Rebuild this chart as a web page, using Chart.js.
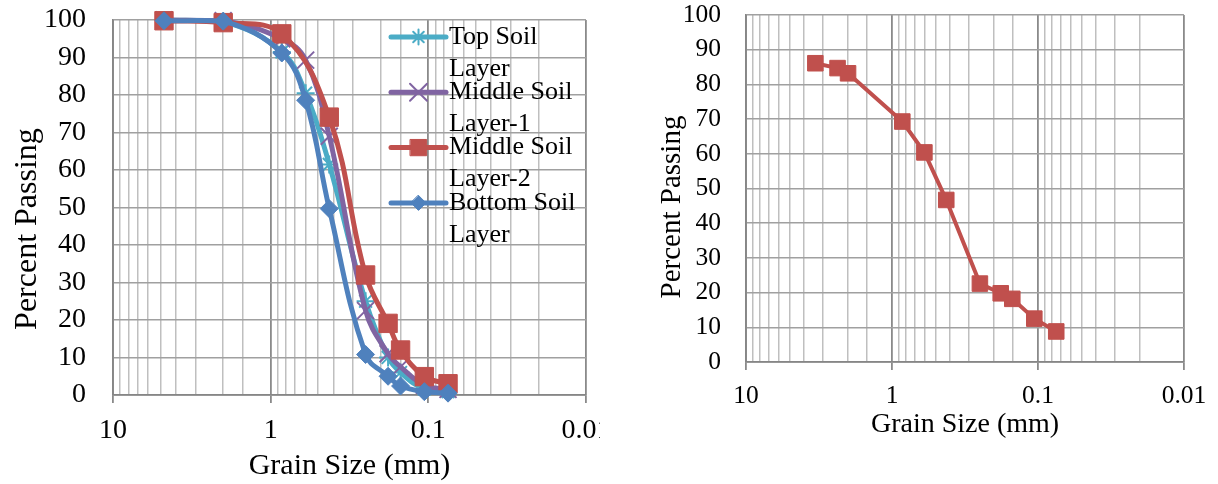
<!DOCTYPE html>
<html>
<head>
<meta charset="utf-8">
<script src="https://cdn.jsdelivr.net/npm/chart.js@4.4.0/dist/chart.umd.min.js"></script>
<style>
  html, body { margin: 0; padding: 0; background: #ffffff; }
  body { width: 1218px; height: 484px; position: relative; overflow: hidden; }
  #left  { position: absolute; left: 0;     top: 0; }
  #right { position: absolute; left: 610px; top: 0; }
</style>
</head>
<body>
<canvas id="left" width="600" height="484"></canvas>
<canvas id="right" width="608" height="484"></canvas>
<script>
const FONT = "'Liberation Serif', 'Times New Roman', serif";
Chart.defaults.font.family = FONT;
Chart.defaults.color = '#000000';

// Sieve openings (mm) and percent passing for each soil layer
const topSoilSize  = [4.75, 2.0, 0.85, 0.6, 0.425, 0.25, 0.18, 0.15, 0.106, 0.075];
const topSoilPass  = [100, 99.6, 91.5, 80.5, 61.5, 25, 10, 6, 1.6, 0.9];
const middle1Size  = [4.75, 2.0, 0.85, 0.6, 0.425, 0.25, 0.18, 0.15, 0.106, 0.075];
const middle1Pass  = [100, 99.8, 95, 89.3, 69, 22.5, 11, 7.5, 2.6, 1.5];
const middle2Size  = [4.75, 2.0, 0.85, 0.425, 0.25, 0.18, 0.15, 0.106, 0.075];
const middle2Pass  = [99.8, 99.3, 96.3, 74.1, 32, 19.1, 12, 4.9, 3.0];
const bottomSize   = [4.75, 2.0, 0.85, 0.6, 0.425, 0.25, 0.18, 0.15, 0.106, 0.075];
const bottomPass   = [99.8, 99.7, 91.2, 78.6, 49.7, 10.8, 5, 2.4, 0.9, 0.5];

// Second gradation sample
const sampleSize = [3.35, 2.36, 2.0, 0.85, 0.6, 0.425, 0.25, 0.18, 0.15, 0.106, 0.075];
const samplePass = [86.1, 84.7, 83.2, 69.3, 60.4, 46.7, 22.6, 19.8, 18.2, 12.5, 8.8];

const seriesNames = ['Top Soil Layer', 'Middle Soil Layer-1', 'Middle Soil Layer-2', 'Bottom Soil Layer'];
const legendLines = [['Top Soil', 'Layer'], ['Middle Soil', 'Layer-1'], ['Middle Soil', 'Layer-2'], ['Bottom Soil', 'Layer']];

// Labelled decades on the grain-size axis
const sizeTicks = [10, 1, 0.1, 0.01];
const sizeTickLabels = ['10', '1', '0.1', '0.01'];

const CYAN = '#4BACC6', PURPLE = '#8064A2', RED = '#C0504D', BLUE = '#4F81BD';

function points(xs, ys) { return xs.map((x, i) => ({ x: x, y: ys[i] })); }

function isDecade(v) {
  const l = Math.log10(v);
  return Math.abs(l - Math.round(l)) < 1e-9;
}

function sizeLabel(v) {
  const i = sizeTicks.findIndex(t => Math.abs(t - v) / t < 1e-6);
  return i >= 0 ? sizeTickLabels[i] : '';
}

function makeScales(o) {
  return {
    x: {
      type: 'logarithmic', min: 0.01, max: 10, reverse: true,
      afterFit: s => { s.height = o.xHeight; s.paddingLeft = 0; s.paddingRight = 0; },
      ticks: {
        autoSkip: false, maxRotation: 0, padding: o.xTickPad,
        font: { size: o.tickSize }, color: '#000',
        callback: v => sizeLabel(v)
      },
      grid: {
        color: c => (c.tick && isDecade(c.tick.value)) ? '#8a8a8a' : '#bfbfbf',
        lineWidth: c => (c.tick && isDecade(c.tick.value)) ? 1.8 : 1.5,
        tickLength: 8,
        tickColor: c => (c.tick && isDecade(c.tick.value)) ? '#8a8a8a' : 'rgba(0,0,0,0)'
      },
      border: { color: '#868686', width: 1.8 },
      title: { display: true, text: 'Grain Size (mm)', font: { size: o.titleSize }, color: '#000',
               padding: { top: 0, bottom: o.xTitlePad } }
    },
    y: {
      min: 0, max: 100,
      afterFit: s => { s.width = o.yWidth; s.paddingTop = 0; s.paddingBottom = 0; },
      ticks: { stepSize: 10, padding: o.yTickPad, font: { size: o.tickSize }, color: '#000' },
      grid: { color: '#a0a0a0', lineWidth: 1.6, drawTicks: false },
      border: { color: '#868686', width: 1.8 },
      title: { display: false }
    }
  };
}

// Vertical axis title, placed by its centre point
function yTitlePlugin(text, cx, cy, size) {
  return {
    id: 'yTitle',
    afterDraw(chart) {
      const ctx = chart.ctx;
      ctx.save();
      ctx.translate(cx, cy);
      ctx.rotate(-Math.PI / 2);
      ctx.font = size + 'px ' + FONT;
      ctx.fillStyle = '#000';
      ctx.textAlign = 'center';
      ctx.textBaseline = 'middle';
      ctx.fillText(text, 0, 0);
      ctx.restore();
    }
  };
}

function drawMarker(ctx, style, x, y, r, fill, stroke, lw) {
  ctx.save();
  ctx.fillStyle = fill; ctx.strokeStyle = stroke; ctx.lineWidth = lw;
  ctx.beginPath();
  const d = r * Math.SQRT1_2;
  if (style === 'rect') {
    ctx.rect(x - d, y - d, 2 * d, 2 * d); ctx.fill(); ctx.stroke();
  } else if (style === 'rectRot') {
    ctx.moveTo(x, y - r); ctx.lineTo(x + r, y); ctx.lineTo(x, y + r); ctx.lineTo(x - r, y);
    ctx.closePath(); ctx.fill(); ctx.stroke();
  } else if (style === 'crossRot') {
    ctx.moveTo(x - d, y - d); ctx.lineTo(x + d, y + d);
    ctx.moveTo(x + d, y - d); ctx.lineTo(x - d, y + d); ctx.stroke();
  } else if (style === 'star') {
    ctx.moveTo(x, y - r); ctx.lineTo(x, y + r);
    ctx.moveTo(x - r, y); ctx.lineTo(x + r, y);
    ctx.moveTo(x - d, y - d); ctx.lineTo(x + d, y + d);
    ctx.moveTo(x + d, y - d); ctx.lineTo(x - d, y + d); ctx.stroke();
  }
  ctx.restore();
}

// Legend drawn inside the plot, with each series name wrapped over two lines
const legendBox = { x0: 391, x1: 446, textX: 449, top: 37, step: 55.3, lineGap: 32, fontSize: 26,
                    radius: [7.5, 12, 11.5, 7.5] };
const layerLegend = {
  id: 'layerLegend',
  afterDatasetsDraw(chart) {
    const ctx = chart.ctx;
    ctx.save();
    legendLines.forEach((lines, i) => {
      const ds = chart.data.datasets[i];
      const y = legendBox.top + i * legendBox.step;
      ctx.strokeStyle = ds.borderColor; ctx.lineWidth = ds.borderWidth; ctx.lineCap = 'round';
      ctx.beginPath(); ctx.moveTo(legendBox.x0, y); ctx.lineTo(legendBox.x1, y); ctx.stroke();
      drawMarker(ctx, ds.pointStyle, (legendBox.x0 + legendBox.x1) / 2, y, legendBox.radius[i],
                 ds.pointBackgroundColor, ds.pointBorderColor, ds.pointBorderWidth);
      ctx.fillStyle = '#000';
      ctx.font = legendBox.fontSize + 'px ' + FONT;
      ctx.textAlign = 'left'; ctx.textBaseline = 'middle';
      lines.forEach((t, k) => ctx.fillText(t, legendBox.textX, y + k * legendBox.lineGap));
    });
    ctx.restore();
  }
};

function lineSet(label, xs, ys, color, style, radius, pbw, order, tension, width) {
  return {
    label: label, data: points(xs, ys), order: order,
    borderColor: color, borderWidth: width, tension: tension,
    borderCapStyle: 'round', borderJoinStyle: 'round',
    pointStyle: style, pointRadius: radius, pointHoverRadius: radius,
    pointBackgroundColor: color, pointBorderColor: color, pointBorderWidth: pbw,
    clip: false
  };
}

new Chart(document.getElementById('left'), {
  type: 'line',
  data: {
    datasets: [
      lineSet(seriesNames[0], topSoilSize, topSoilPass, CYAN,   'star',     9,  2, 3, 0.4, 5),
      lineSet(seriesNames[1], middle1Size, middle1Pass, PURPLE, 'crossRot', 12, 2, 2, 0.4, 5),
      lineSet(seriesNames[2], middle2Size, middle2Pass, RED,    'rect',     13, 1, 1, 0.4, 5),
      lineSet(seriesNames[3], bottomSize,  bottomPass,  BLUE,   'rectRot',  9,  1, 0, 0.4, 5)
    ]
  },
  options: {
    responsive: false, animation: false, devicePixelRatio: 1,
    layout: { padding: { left: 0, top: 20, right: 10, bottom: 0 } },
    plugins: { legend: { display: false }, tooltip: { enabled: false } },
    scales: makeScales({ xHeight: 89, yWidth: 113, tickSize: 28, titleSize: 30,
                         xTickPad: 11, xTitlePad: 0, yTickPad: 27 })
  },
  plugins: [layerLegend, yTitlePlugin('Percent Passing', 28, 229, 32)]
});

new Chart(document.getElementById('right'), {
  type: 'line',
  data: {
    datasets: [
      lineSet('Sample', sampleSize, samplePass, RED, 'rect', 11, 1, 0, 0, 4)
    ]
  },
  options: {
    responsive: false, animation: false, devicePixelRatio: 1,
    layout: { padding: { left: 0, top: 15, right: 34, bottom: 0 } },
    plugins: { legend: { display: false }, tooltip: { enabled: false } },
    scales: makeScales({ xHeight: 122, yWidth: 136, tickSize: 25.5, titleSize: 28,
                         xTickPad: 11, xTitlePad: 43, yTickPad: 25 })
  },
  plugins: [yTitlePlugin('Percent Passing', 62, 207, 29)]
});
</script>
</body>
</html>
